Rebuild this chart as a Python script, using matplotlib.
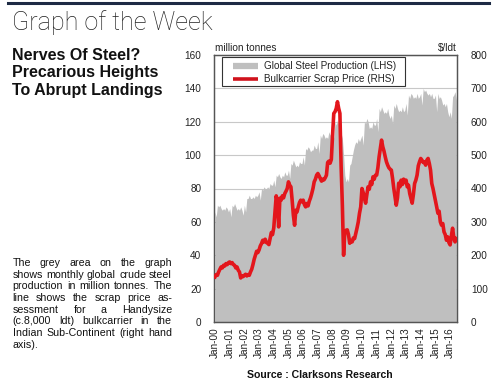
import numpy as np
import matplotlib
matplotlib.use("Agg")
import matplotlib.pyplot as plt
from matplotlib.lines import Line2D
from matplotlib.patches import Rectangle

# ---------------- data ----------------
tick_labels = ["Jan-%02d" % y for y in range(0, 17)]
series_names = ["Global Steel Production (LHS)", "Bulkcarrier Scrap Price (RHS)"]

steel_2000 = [66, 63, 70, 69, 70, 68, 67, 68, 67, 69, 68, 66]
steel_2001 = [68, 63, 70, 69, 71, 69, 67, 68, 67, 69, 67, 64]
steel_2002 = [70, 66, 74, 74, 76, 74, 74, 75, 74, 76, 75, 76]
steel_2003 = [78, 73, 80, 79, 81, 80, 80, 81, 80, 83, 82, 82]
steel_2004 = [85, 81, 88, 87, 89, 87, 86, 88, 87, 90, 88, 88]
steel_2005 = [91, 86, 95, 94, 97, 95, 93, 94, 93, 96, 95, 95]
steel_2006 = [99, 94, 104, 103, 105, 104, 102, 103, 103, 106, 104, 104]
steel_2007 = [108, 101, 112, 110, 113, 112, 110, 111, 110, 114, 112, 113]
steel_2008 = [115, 110, 120, 118, 121, 118, 115, 113, 110, 100, 88, 84]
steel_2009 = [86, 84, 94, 95, 99, 103, 106, 108, 107, 110, 108, 110]
steel_2010 = [112, 106, 120, 119, 122, 120, 116, 117, 116, 120, 118, 118]
steel_2011 = [122, 114, 128, 126, 129, 127, 125, 126, 125, 128, 124, 122]
steel_2012 = [124, 119, 130, 128, 131, 128, 126, 127, 126, 129, 126, 127]
steel_2013 = [131, 124, 136, 134, 137, 136, 134, 135, 134, 137, 134, 135]
steel_2014 = [137, 130, 140, 138, 139, 137, 136, 137, 135, 137, 134, 134]
steel_2015 = [136, 126, 137, 134, 135, 133, 130, 131, 129, 131, 126, 123]
steel_2016 = [126, 122, 135, 136, 138, 133]

scrap_2000 = [135, 142, 140, 150, 158, 165, 162, 170, 168, 175, 172, 178]
scrap_2001 = [180, 175, 178, 172, 170, 162, 165, 155, 150, 132, 138, 136]
scrap_2002 = [140, 143, 138, 142, 140, 150, 158, 172, 188, 200, 212, 208]
scrap_2003 = [216, 228, 235, 245, 240, 248, 238, 236, 232, 250, 268, 262]
scrap_2004 = [282, 330, 378, 360, 285, 371, 365, 378, 372, 385, 392, 400]
scrap_2005 = [420, 410, 405, 365, 320, 290, 335, 330, 345, 358, 365, 360]
scrap_2006 = [365, 352, 345, 355, 348, 362, 372, 385, 400, 420, 428, 440]
scrap_2007 = [445, 438, 430, 422, 428, 426, 432, 440, 478, 482, 476, 487]
scrap_2008 = [560, 625, 630, 640, 660, 640, 625, 465, 350, 200, 270, 275]
scrap_2009 = [276, 262, 236, 244, 240, 252, 250, 266, 282, 300, 326, 345]
scrap_2010 = [400, 388, 370, 356, 382, 405, 398, 420, 412, 435, 428, 440]
scrap_2011 = [440, 462, 495, 520, 545, 525, 512, 495, 480, 470, 462, 458]
scrap_2012 = [455, 430, 400, 375, 350, 372, 416, 405, 425, 412, 428, 418]
scrap_2013 = [425, 405, 410, 385, 370, 356, 382, 415, 425, 440, 468, 480]
scrap_2014 = [490, 485, 478, 480, 470, 485, 490, 475, 455, 415, 400, 382]
scrap_2015 = [365, 345, 326, 332, 300, 290, 295, 270, 262, 245, 255, 238]
scrap_2016 = [231, 258, 281, 252, 240, 250]

steel = np.array(steel_2000 + steel_2001 + steel_2002 + steel_2003 + steel_2004 +
                 steel_2005 + steel_2006 + steel_2007 + steel_2008 + steel_2009 +
                 steel_2010 + steel_2011 + steel_2012 + steel_2013 + steel_2014 +
                 steel_2015 + steel_2016, dtype=float)
scrap = np.array(scrap_2000 + scrap_2001 + scrap_2002 + scrap_2003 + scrap_2004 +
                 scrap_2005 + scrap_2006 + scrap_2007 + scrap_2008 + scrap_2009 +
                 scrap_2010 + scrap_2011 + scrap_2012 + scrap_2013 + scrap_2014 +
                 scrap_2015 + scrap_2016, dtype=float)
months = np.arange(len(steel))

body_lines = [
    "The grey area on the graph",
    "shows monthly global crude steel",
    "production in million tonnes. The",
    "line shows the scrap price as-",
    "sessment for a Handysize",
    "(c.8,000 ldt) bulkcarrier in the",
    "Indian Sub-Continent (right hand",
    "axis).",
]

# ---------------- figure ----------------
W, H = 497, 381
fig = plt.figure(figsize=(W / 100, H / 100), dpi=100)
fig.patch.set_facecolor("white")
FONT = ["Liberation Sans", "DejaVu Sans"]

def fx(px):
    return px / W

def fy(py):
    return 1 - py / H

ax = fig.add_axes([fx(214), fy(322), fx(457) - fx(214), fy(55) - fy(322)])
ax2 = ax.twinx()

GREY = "#bfbfbf"
RED = "#e3161c"
SPINE = "#555555"

ax.fill_between(months, 0, steel, color=GREY, linewidth=0, zorder=1)
ax.set_ylim(0, 160)
ax.set_yticks(np.arange(0, 161, 20))
ax.set_axisbelow(True)
ax.yaxis.grid(True, color="#c8c8c8", linewidth=0.8, zorder=0)
ax.set_xlim(-0.8, 197.6)
ax.set_xticks(np.arange(0, 193, 12))
ax.set_xticklabels(tick_labels, rotation=90, family=FONT, fontsize=7.2, color="#222222")

ax2.plot(months, scrap, color=RED, linewidth=2.6, solid_joinstyle="round", zorder=3)
ax2.set_ylim(0, 800)
ax2.set_yticks(np.arange(0, 801, 100))

for a in (ax, ax2):
    for s in a.spines.values():
        s.set_color(SPINE)
        s.set_linewidth(0.9)
    a.tick_params(axis="both", length=0, colors="#222222", labelsize=7.2)
ax.tick_params(axis="y", pad=9)
ax.tick_params(axis="x", pad=4)
ax2.tick_params(axis="y", pad=10)
for lab in ax.get_yticklabels() + ax2.get_yticklabels():
    lab.set_family(FONT)

fig.text(fx(215), fy(48), "million tonnes", family=FONT, fontsize=7.2,
         color="#222222", ha="left", va="center")
fig.text(fx(457), fy(48), "$/ldt", family=FONT, fontsize=7.2,
         color="#222222", ha="right", va="center")

# ---------------- legend (drawn in figure pixels) ----------------
fig.add_artist(Rectangle((fx(222), fy(85.5)), fx(405) - fx(222), fy(57) - fy(85.5),
                         transform=fig.transFigure, facecolor="white",
                         edgecolor="#333333", linewidth=0.8, zorder=5))
for name, col, lw, yy in zip(series_names, [GREY, "#d0121c"], [4.5, 2.6], [66, 79]):
    fig.add_artist(Line2D([fx(233), fx(258)], [fy(yy), fy(yy)], color=col,
                          linewidth=lw, solid_capstyle="butt", zorder=6))
    fig.text(fx(264), fy(yy), name, family=FONT, fontsize=7.1, color="#222222",
             ha="left", va="center", zorder=6)

# ---------------- header texts ----------------
fig.add_artist(Line2D([fx(8), fx(489)], [fy(3), fy(3)], color="#1d2a44", linewidth=2.2))
fig.text(fx(12), fy(30), "Graph of the Week", family=["Roboto", "DejaVu Sans"],
         fontweight="light", fontsize=18.1, color="#222222", ha="left", va="baseline")
for txt, yb in zip(["Nerves Of Steel?", "Precarious Heights", "To Abrupt Landings"],
                   [59.5, 77.5, 95.5]):
    fig.text(fx(12), fy(yb), txt, family=FONT, fontweight="bold", fontsize=11.5,
             color="#111111", ha="left", va="baseline")

fig.text(fx(320), fy(378), "Source : Clarksons Research", family=FONT,
         fontweight="bold", fontsize=7.6, color="#111111", ha="center", va="baseline")

# ---------------- justified paragraph ----------------
renderer = fig.canvas.get_renderer()
x0, x1 = 12.5, 172.0
base0, step = 266.0, 11.7
body_kw = dict(family=FONT, fontsize=7.7, color="#111111", va="baseline", ha="left")
probe1 = fig.text(0, 0, "a a", **body_kw)
probe2 = fig.text(0, 0, "aa", **body_kw)
space_w = probe1.get_window_extent(renderer).width - probe2.get_window_extent(renderer).width
probe1.remove(); probe2.remove()
for i, line in enumerate(body_lines):
    yb = base0 + i * step
    words = line.split()
    texts = [fig.text(0, fy(yb), w, **body_kw) for w in words]
    widths = [t.get_window_extent(renderer).width for t in texts]
    last = (i == len(body_lines) - 1)
    if last or len(words) == 1:
        gap = space_w
    else:
        gap = (x1 - x0 - sum(widths)) / (len(words) - 1)
    x = x0
    for t, wd in zip(texts, widths):
        t.set_x(fx(x))
        x += wd + gap

fig.savefig("out.png", dpi=100)
